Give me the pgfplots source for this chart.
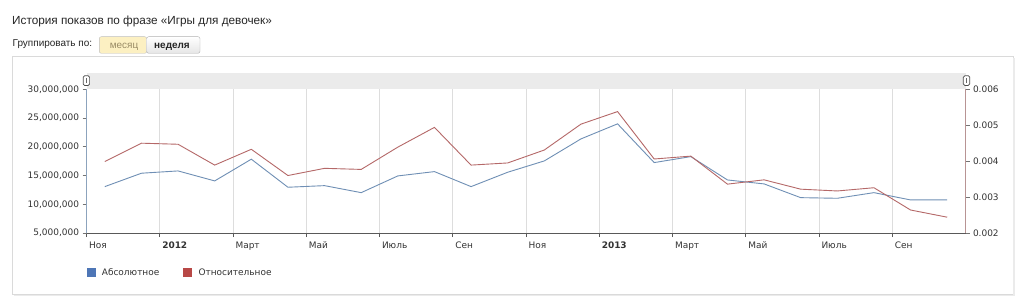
\documentclass[border=0pt]{standalone}
\usepackage{fontspec}
\setmainfont{DejaVu Sans}
\newfontfamily\arialfont{Liberation Sans}
\usepackage{pgfplots}
\pgfplotsset{compat=1.18}
\definecolor{lineblue}{HTML}{6F8FB5}
\definecolor{linered}{HTML}{B56868}
\definecolor{legblue}{HTML}{4E76B6}
\definecolor{legred}{HTML}{B84846}
\definecolor{axblue}{HTML}{8CA3BD}
\definecolor{axred}{HTML}{B89494}
\definecolor{gridc}{HTML}{DDDDDD}
\definecolor{txt}{HTML}{333333}
\definecolor{band}{HTML}{EBEBEB}
\definecolor{frame}{HTML}{DADADA}
\definecolor{btnyel}{HTML}{FCF0C2}
\definecolor{btntxt}{HTML}{9A8C66}
\begin{document}
\begin{tikzpicture}
\useasboundingbox (0,0) rectangle (1024bp,304bp);
\fill[white] (0,0) rectangle (1024bp,304bp);
% frame
\draw[frame, line width=1bp] (12.7bp,9.7bp) rectangle (1013bp,247.3bp);
\draw[black!8, line width=1.5bp] (14bp,8.5bp) -- (1014.2bp,8.5bp) -- (1014.2bp,246bp);
% title
\node[anchor=base west, inner sep=0, text=black!85] at (12bp,279bp) {\arialfont\fontsize{11.8}{14}\selectfont История показов по фразе «Игры для девочек»};
\node[anchor=base west, inner sep=0, text=black!85] at (12.5bp,257.5bp) {\arialfont\fontsize{10}{12}\selectfont Группировать по:};
% buttons
\draw[black!25, fill=btnyel, rounded corners=2bp] (99.3bp,250.7bp) rectangle (146.7bp,267.3bp);
\shade[top color=white, bottom color=black!10, draw=black!30, rounded corners=2bp] (146.7bp,250.7bp) rectangle (200bp,267.3bp);
\node[anchor=base, inner sep=0, text=btntxt] at (124bp,255.5bp) {\arialfont\fontsize{10}{12}\selectfont месяц};
\node[anchor=base, inner sep=0, text=black!85] at (172bp,255.5bp) {\arialfont\bfseries\fontsize{10}{12}\selectfont неделя};
% scroll band
\fill[band] (86.5bp,214.7bp) rectangle (965.5bp,230.7bp);
\begin{axis}[
  at={(86.5bp,71bp)}, anchor=south west, scale only axis,
  width=879bp, height=143.7bp,
  xmin=0, xmax=24, ymin=5000000, ymax=30000000,
  axis x line*=bottom, axis y line*=left,
  x axis line style={-, draw=black!65, line width=0.8bp},
  y axis line style={-, draw=axblue, line width=1bp},
  xtick={0,2,...,22},
  xticklabels={Ноя,\textbf{2012},Март,Май,Июль,Сен,Ноя,\textbf{2013},Март,Май,Июль,Сен},
  ytick={5000000,10000000,15000000,20000000,25000000,30000000},
  scaled y ticks=false,
  tick align=outside, major tick length=4bp,
  x tick style={draw=black!65, line width=0.8bp},
  y tick style={draw=black!55, line width=0.6bp},
  xmajorgrids, grid style={gridc, line width=0.7bp},
  ticklabel style={font=\fontsize{9}{10}\selectfont, text=txt},
  xticklabel style={anchor=north west, xshift=-1bp, yshift=-1bp},
  yticklabel style={/pgf/number format/fixed, /pgf/number format/1000 sep={,}, /pgf/number format/assume math mode=true},
  legend image code/.code={\fill[#1, draw=none] (0bp,-4.5bp) rectangle (9bp,4.5bp); \path (13bp,0bp);},
  legend style={at={(0,-0.278)}, anchor=west, draw=none, fill=none, inner xsep=0pt,
    legend columns=2, font=\fontsize{9}{10}\selectfont, text=txt,
    /tikz/every even column/.append style={column sep=22bp}},
  legend cell align=left,
  clip=false,
]
\addplot[lineblue, line width=0.9bp, forget plot] coordinates {
(0.5,13070000) (1.5,15400000) (2.5,15800000) (3.5,14060000) (4.5,17840000)
(5.5,12960000) (6.5,13240000) (7.5,12020000) (8.5,14930000) (9.5,15680000)
(10.5,13070000) (11.5,15570000) (12.5,17540000) (13.5,21370000) (14.5,23990000)
(15.5,17250000) (16.5,18290000) (17.5,14230000) (18.5,13540000) (19.5,11150000)
(20.5,11040000) (21.5,12020000) (22.5,10750000) (23.5,10750000)};
\addlegendimage{fill=legblue}
\addlegendentry{Абсолютное}
\addlegendimage{fill=legred}
\addlegendentry{Относительное}
\end{axis}
\begin{axis}[
  at={(86.5bp,71bp)}, anchor=south west, scale only axis,
  width=879bp, height=143.7bp,
  xmin=0, xmax=24, ymin=0.002, ymax=0.006,
  axis x line=none, axis y line*=right,
  y axis line style={-, draw=axred, line width=1bp},
  ytick={0.002,0.003,0.004,0.005,0.006},
  scaled y ticks=false,
  tick align=outside, major tick length=4bp,
  y tick style={draw=black!55, line width=0.6bp},
  ticklabel style={font=\fontsize{9}{10}\selectfont, text=txt},
  yticklabel style={/pgf/number format/fixed, /pgf/number format/fixed zerofill, /pgf/number format/precision=3, /pgf/number format/assume math mode=true},
  clip=false,
]
\addplot[linered, line width=0.9bp] coordinates {
(0.5,0.00399) (1.5,0.00450) (2.5,0.00447) (3.5,0.00389) (4.5,0.00433)
(5.5,0.00360) (6.5,0.00380) (7.5,0.00377) (8.5,0.00439) (9.5,0.00494)
(10.5,0.00389) (11.5,0.00395) (12.5,0.00431) (13.5,0.00503) (14.5,0.00538)
(15.5,0.00406) (16.5,0.00414) (17.5,0.00336) (18.5,0.00348) (19.5,0.00322)
(20.5,0.00317) (21.5,0.00326) (22.5,0.00264) (23.5,0.00244)};
\end{axis}
% handles
\draw[black!70, fill=white, rounded corners=1.5bp, line width=0.7bp] (83.2bp,218.5bp) rectangle (89.6bp,228.3bp);
\fill[black!60] (85.9bp,221bp) rectangle (86.9bp,225.8bp);
\draw[black!70, fill=white, rounded corners=1.5bp, line width=0.7bp] (963.3bp,218.5bp) rectangle (969.7bp,228.3bp);
\fill[black!60] (966bp,221bp) rectangle (967bp,225.8bp);
\end{tikzpicture}
\end{document}
